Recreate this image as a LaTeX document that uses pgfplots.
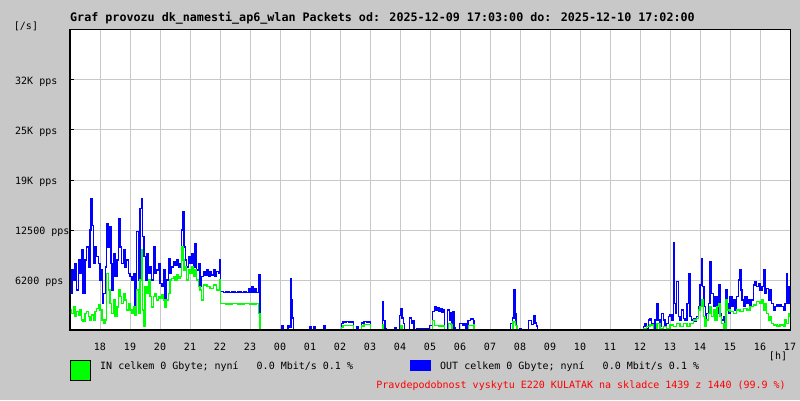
\documentclass[border=0pt]{standalone}
\usepackage{fontspec}
\setmainfont{DejaVu Sans Mono}
\usepackage{pgfplots}
\usepackage{pgfplotstable}
\pgfplotsset{compat=1.18}

\definecolor{bg}{RGB}{200,200,200}
\definecolor{gridc}{RGB}{200,200,200}
\definecolor{inc}{RGB}{0,255,0}
\definecolor{outc}{RGB}{0,0,255}
\definecolor{warn}{RGB}{255,0,0}

% x = hours since 17:00, v = packets per second
\pgfplotstableread{
t v
0.00 6250
0.03 4580
0.07 7500
0.11 6250
0.17 8330
0.22 5000
0.28 8750
0.33 7080
0.39 10000
0.44 4580
0.50 8750
0.56 10400
0.61 7900
0.67 12500
0.70 16450
0.73 13100
0.78 8330
0.83 10400
0.89 9170
0.94 8330
1.00 6250
1.03 7500
1.08 3330
1.12 4580
1.18 7900
1.22 13300
1.26 10400
1.30 12900
1.36 8330
1.40 5000
1.44 9580
1.50 6670
1.56 8750
1.61 13960
1.67 10400
1.72 8330
1.78 10000
1.83 7900
1.89 8750
1.94 7080
2.00 6670
2.06 6250
2.11 7080
2.17 2900
2.22 12300
2.28 6250
2.33 15200
2.38 16450
2.42 11670
2.47 9170
2.51 6250
2.56 9580
2.61 7080
2.67 7900
2.72 6250
2.78 10400
2.83 7080
2.89 7500
2.94 8330
3.00 5830
3.06 5420
3.11 7500
3.17 2900
3.22 6250
3.28 8960
3.33 7080
3.39 7900
3.44 8540
3.50 8120
3.56 8750
3.61 7900
3.67 8330
3.72 12500
3.76 14800
3.80 10400
3.84 8750
3.89 7900
3.94 9170
4.00 8330
4.06 9580
4.11 7900
4.17 10800
4.22 7500
4.28 8330
4.33 5420
4.39 6670
4.44 7290
4.50 6880
4.56 7500
4.61 6670
4.67 7290
4.72 6880
4.78 7500
4.83 6670
4.89 7290
4.94 7080
4.98 8750
5.02 4790
5.11 4670
5.20 4750
5.30 4670
5.40 4750
5.50 4670
5.60 4750
5.70 4670
5.80 4750
5.89 4670
5.94 5200
6.00 4670
6.06 5420
6.11 4670
6.17 5200
6.22 4670
6.28 6880
6.33 0
7.04 600
7.10 0
7.26 600
7.33 300
7.36 6450
7.39 3750
7.42 1500
7.45 0
8.00 400
8.04 0
8.13 400
8.17 0
8.46 600
8.50 0
9.05 800
9.10 1000
9.20 1100
9.30 1000
9.44 0
9.55 400
9.60 0
9.71 900
9.80 1100
9.90 1000
10.02 0
10.41 3500
10.45 1200
10.50 200
10.53 0
10.82 300
10.86 0
10.99 1800
11.03 2700
11.07 1500
11.11 800
11.14 0
11.32 1500
11.38 800
11.43 1200
11.47 0
11.56 150
11.99 600
12.09 2300
12.15 2900
12.20 2500
12.25 2800
12.30 2400
12.35 2700
12.40 2200
12.45 2500
12.48 0
12.59 2500
12.65 1200
12.70 2200
12.73 0
12.76 2300
12.80 300
12.83 0
12.99 800
13.10 600
13.17 800
13.20 0
13.27 1200
13.35 1400
13.44 1200
13.47 0
14.69 800
14.75 1500
14.80 5100
14.83 2000
14.87 600
14.90 0
14.99 200
15.03 0
15.29 1200
15.38 700
15.45 1800
15.50 900
15.55 500
15.58 0
19.11 420
19.17 830
19.22 200
19.28 1250
19.33 1460
19.39 830
19.44 80
19.50 1250
19.56 3330
19.61 1250
19.67 420
19.72 2080
19.78 1250
19.83 420
19.89 830
19.94 1670
20.00 1880
20.06 1250
20.11 10900
20.14 3330
20.19 2080
20.22 6040
20.28 1670
20.33 1250
20.39 2500
20.44 1460
20.50 1250
20.56 3330
20.61 7080
20.67 1670
20.72 1250
20.78 1460
20.83 1040
20.89 1670
20.94 2920
21.00 5630
21.06 8960
21.09 5420
21.13 2920
21.18 1250
21.22 2080
21.28 3330
21.33 8540
21.39 4580
21.44 2920
21.50 4170
21.56 2080
21.61 5630
21.67 2080
21.72 1250
21.78 1670
21.82 200
21.87 5000
21.91 3330
21.96 2080
22.00 4170
22.06 2920
22.11 3750
22.17 2500
22.22 4170
22.28 6250
22.31 7500
22.36 5000
22.40 3750
22.44 2920
22.50 4170
22.56 3330
22.61 3750
22.67 2920
22.72 3750
22.78 5630
22.83 6040
22.89 5420
22.94 5830
23.00 5000
23.06 5420
23.11 7500
23.17 4580
23.22 5210
23.28 3750
23.33 5000
23.39 3330
23.44 2500
23.50 2920
23.56 3130
23.61 2920
23.67 3130
23.72 2920
23.78 2500
23.83 3330
23.89 7080
23.92 3330
23.97 5420
24.00 4170
}\outdata

\pgfplotstableread{
t v
0.00 2500
0.06 2080
0.11 2900
0.17 1670
0.22 2290
0.28 1880
0.33 2500
0.39 1250
0.44 1040
0.50 2080
0.56 2290
0.61 1670
0.67 1250
0.72 1880
0.78 1250
0.83 2290
0.89 2710
0.94 3130
1.00 2500
1.06 1250
1.11 830
1.17 1250
1.22 7080
1.28 5000
1.33 3330
1.39 2080
1.44 3750
1.50 1670
1.56 2900
1.61 5000
1.67 4170
1.72 3330
1.78 4580
1.83 3750
1.89 2500
1.94 3330
2.00 2500
2.06 2080
2.11 2900
2.17 1880
2.22 5000
2.28 2080
2.33 6250
2.38 10000
2.42 2500
2.44 420
2.50 5420
2.56 4580
2.61 6250
2.67 4170
2.72 2900
2.78 4170
2.83 4580
2.89 3750
2.94 4170
3.00 3960
3.06 4380
3.11 3750
3.17 2900
3.22 3750
3.28 4580
3.33 6250
3.39 6460
3.44 6670
3.50 6250
3.56 6880
3.61 6460
3.67 6670
3.72 10400
3.76 8750
3.80 7500
3.84 7900
3.89 6250
3.94 7500
4.00 7080
4.06 7900
4.11 6670
4.17 7500
4.22 6250
4.28 5420
4.33 5000
4.39 3750
4.44 5630
4.56 5420
4.67 5210
4.78 5630
4.89 5000
4.98 6250
5.02 3330
5.20 3250
5.40 3330
5.60 3250
5.80 3330
6.00 3250
6.20 3330
6.28 2080
6.33 0
9.05 300
9.10 600
9.44 0
9.71 500
9.80 700
10.02 0
10.41 700
10.45 0
11.02 500
11.07 0
12.09 1200
12.15 600
12.30 500
12.48 0
12.62 800
12.70 700
12.73 0
13.29 600
13.44 700
13.47 0
14.77 1000
14.85 600
14.90 0
19.11 200
19.22 420
19.33 630
19.44 80
19.56 830
19.67 200
19.78 420
19.89 200
20.00 630
20.11 420
20.22 830
20.33 420
20.44 830
20.56 420
20.67 830
20.78 1250
20.89 1460
20.94 2500
21.00 2920
21.06 3750
21.11 1670
21.17 420
21.22 1250
21.28 2080
21.33 2920
21.39 1670
21.44 2500
21.50 1250
21.56 2920
21.61 3330
21.67 1670
21.72 830
21.80 200
21.87 3750
21.91 2500
22.00 2290
22.11 2080
22.22 2500
22.33 2290
22.44 2710
22.56 2500
22.67 2920
22.78 3130
22.89 3540
23.00 3330
23.06 3750
23.11 2500
23.17 3330
23.22 2080
23.28 1250
23.33 1670
23.39 830
23.44 630
23.56 500
23.67 630
23.78 500
23.83 1250
23.89 830
23.94 2080
24.00 1670
}\indata

\begin{document}
\begin{tikzpicture}
\fill[bg] (0pt,0pt) rectangle (800pt,400pt);
\useasboundingbox (0pt,0pt) rectangle (800pt,400pt);

\begin{axis}[
    at={(70pt,70pt)}, anchor=south west,
    scale only axis, width=720pt, height=300pt,
    xmin=0, xmax=24, ymin=0, ymax=37500,
    axis background/.style={fill=white},
    axis line style={black, line width=1pt},
    grid=major,
    major grid style={gridc, line width=1pt},
    xtick={1,...,24},
    xticklabels={18,19,20,21,22,23,00,01,02,03,04,05,06,07,08,09,10,11,12,13,14,15,16,17},
    ytick={6250,12500,18750,25000,31250},
    yticklabels={6200 pps,12500 pps,19K pps,25K pps,32K pps},
    scaled y ticks=false,
    tick align=inside,
    xtick style={draw=none},
    ytick pos=left,
    ytick style={black, line width=1pt},
    major tick length=4pt,
    ticklabel style={font=\fontsize{10}{12}\selectfont, black},
    xticklabel style={yshift=-10pt},
    yticklabel style={anchor=west, inner sep=0pt, xshift=-55pt, yshift=-1.5pt},
]
\addplot[const plot, outc, line width=1.4pt] table[x=t, y=v] {\outdata};
\addplot[const plot, inc, line width=1.4pt] table[x=t, y=v] {\indata};
\draw[black, line width=2pt] (rel axis cs:0,0) -- (rel axis cs:1,0);
\draw[black, line width=2pt] (rel axis cs:0,0) -- (rel axis cs:0,1);
\end{axis}

\node[anchor=west, inner sep=0pt, font=\fontsize{11.7}{14}\selectfont\bfseries]
  at (70pt,382pt) {Graf provozu dk\_namesti\_ap6\_wlan Packets od: 2025-12-09 17:03:00 do: 2025-12-10 17:02:00};
\node[inner sep=0pt, font=\fontsize{10}{12}\selectfont] at (26pt,374pt) {[/s]};
\node[inner sep=0pt, font=\fontsize{10}{12}\selectfont] at (778pt,44pt) {[h]};

\filldraw[fill=inc, draw=black, line width=1pt] (70.5pt,20pt) rectangle (90.5pt,40pt);
\fill[outc] (410pt,29pt) rectangle (431pt,40pt);
\node[anchor=west, inner sep=0pt, font=\fontsize{10}{12}\selectfont] at (100pt,33pt)
  {IN celkem 0 Gbyte; nyní\ \ \ 0.0 Mbit/s 0.1 \%};
\node[anchor=west, inner sep=0pt, font=\fontsize{10}{12}\selectfont] at (440pt,33pt)
  {OUT celkem 0 Gbyte; nyní\ \ \ 0.0 Mbit/s 0.1 \%};
\node[anchor=east, inner sep=0pt, text=warn, font=\fontsize{10}{12}\selectfont] at (786pt,14pt)
  {Pravdepodobnost vyskytu E220 KULATAK na skladce 1439 z 1440 (99.9 \%)};
\end{tikzpicture}
\end{document}
